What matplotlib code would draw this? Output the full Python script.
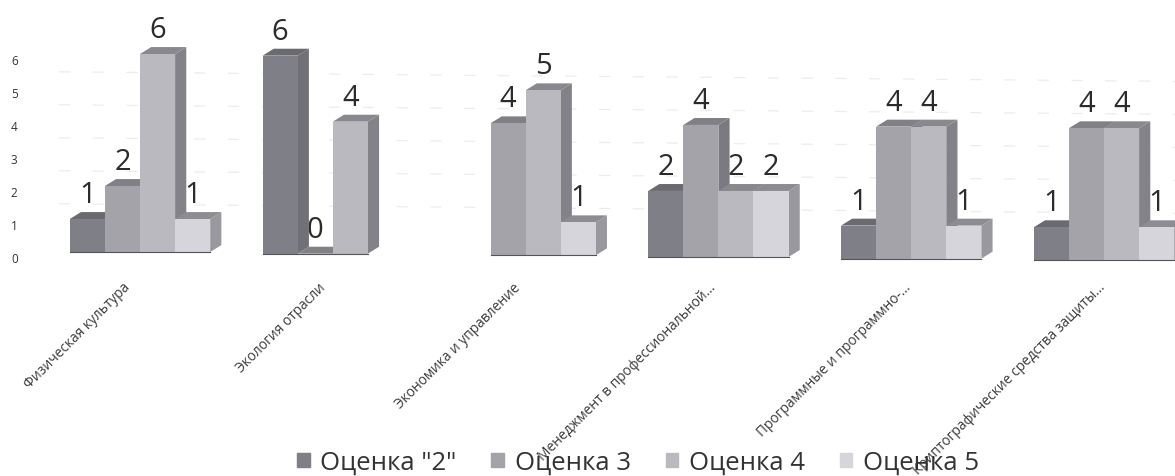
import numpy as np
import matplotlib
matplotlib.use('Agg')
import matplotlib.pyplot as plt
from matplotlib.patches import Patch

plt.rcParams['font.family'] = ['Open Sans', 'DejaVu Sans']

# categories and values (nan = no bar and no label)
categories = ['Физическая культура', 'Экология отрасли', 'Экономика и управление',
              'Менеджмент в профессиональной...', 'Программные и программно-...',
              'Криптографические средства защиты...']
series_names = ['Оценка "2"', 'Оценка 3', 'Оценка 4', 'Оценка 5']
ocenka_2 = [1, 6, np.nan, 2, 1, 1]
ocenka_3 = [2, 0, 4, 4, 4, 4]
ocenka_4 = [6, 4, 5, 2, 4, 4]
ocenka_5 = [1, np.nan, 1, 2, 1, 1]
y_ticks = [0, 1, 2, 3, 4, 5, 6]

front_colors = ['#7f7f87', '#a3a3a9', '#b9b9bf', '#d5d5db']
top_colors = ['#6a6a70', '#808086', '#88888e', '#8c8c92']
side_colors = ['#707076', '#7a7a80', '#828288', '#98989e']

# the scan is slightly rotated, so the baseline drops a little per group
tilt = -0.05
bar_w = 0.182
depth_x = 0.058
depth_y = 0.21

fig = plt.figure(figsize=(11.75, 4.77), dpi=100)
ax = fig.add_axes([0, 0, 1, 1])
ax.set_xlim(-140 / 192.8, (1175 - 140) / 192.8)
ax.set_ylim((253 - 477) / 33, 253 / 33)
ax.axis('off')

# faint broken gridlines
xs = np.array([-0.42, 5.37])
for t in y_ticks[1:6]:
    ax.plot(xs, t + 0.44 + tilt * xs, color='#ececec', lw=0.9, ls=(0, (9, 18)), zorder=0)
for t in y_ticks:
    ax.text(-0.652, t - 0.2, str(t), fontsize=8.5, color='#333333', ha='center', va='center', zorder=1)

series = [ocenka_2, ocenka_3, ocenka_4, ocenka_5]
z = 3
for g in range(len(categories)):
    base = tilt * g
    drawn = []
    for s in range(4):
        v = series[s][g]
        if np.isnan(v):
            continue
        x0 = g + (s - 2) * bar_w
        x1 = x0 + bar_w
        top = base + v
        drawn.append(s)
        # label first so that the bars can cover it, as in the reference
        ax.annotate(str(v), (x0 + bar_w / 2, top), xytext=(0, 12.2), textcoords='offset points',
                    fontsize=21, color='#2b2b2b', ha='center', va='baseline', zorder=2)
        ax.fill([x1, x1 + depth_x, x1 + depth_x, x1],
                [base, base + depth_y, top + depth_y, top], color=side_colors[s], lw=0, zorder=z)
        ax.fill([x0, x0 + depth_x, x1 + depth_x, x1],
                [top, top + depth_y, top + depth_y, top], color=top_colors[s], lw=0, zorder=z)
        ax.bar(x0, v, bar_w, bottom=base, align='edge', color=front_colors[s], lw=0, zorder=z)
        z += 1
    ax.plot([g + (drawn[0] - 2) * bar_w, g + (drawn[-1] - 1) * bar_w], [base, base],
            color='#555555', lw=0.8, zorder=z)
    z += 1

# category labels, right end hanging below each group
for g, name in enumerate(categories):
    ax.annotate(name, (g, 0), xytext=(-12.3 + 1.6 * g, -19.8), textcoords='offset points',
                fontsize=9.9, color='#3a3a3a', rotation=45, rotation_mode='anchor',
                ha='right', va='top', zorder=z + 1)

handles = [Patch(color=c) for c in front_colors]
fig.legend(handles, series_names, loc='lower center', ncol=4, frameon=False, fontsize=18.5,
           labelcolor='#333333', handlelength=0.5, handleheight=0.5, handletextpad=0.4,
           columnspacing=1.36, borderpad=0, bbox_to_anchor=(0.543, -0.025))

fig.savefig('out.png', dpi=100)
